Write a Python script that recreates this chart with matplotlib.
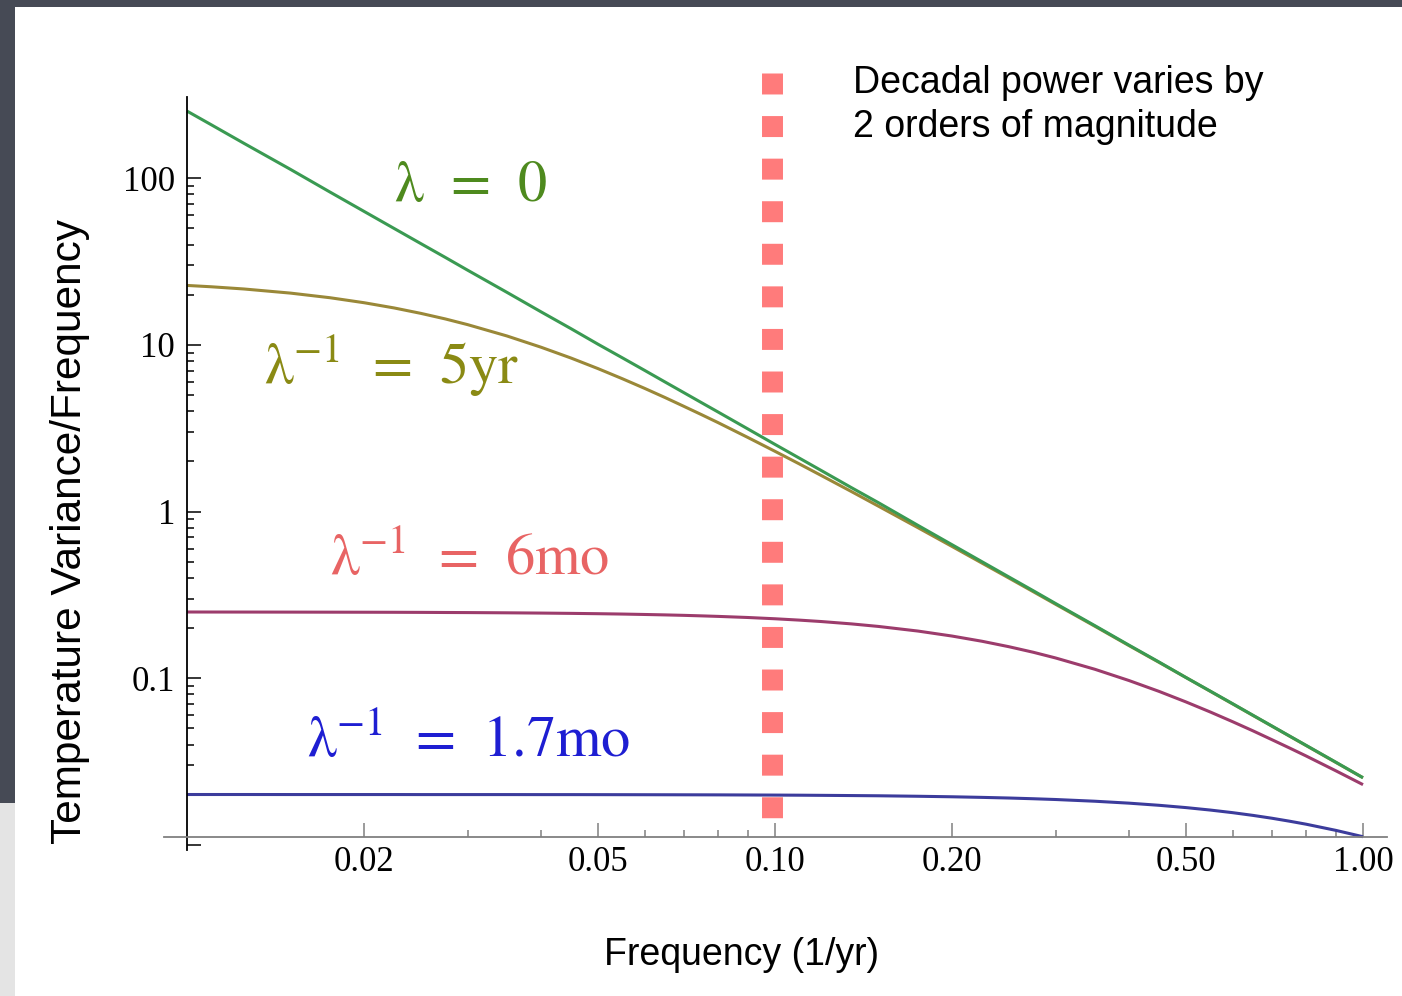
import matplotlib
matplotlib.use("Agg")
import matplotlib.pyplot as plt
from matplotlib.patches import Rectangle
from matplotlib.ticker import FixedLocator, FixedFormatter, NullFormatter

# values (log-log spectra)
freq = [0.01, 0.011, 0.0125, 0.015, 0.0175, 0.02, 0.0225, 0.025, 0.0275,
        0.03, 0.035, 0.04, 0.045, 0.05, 0.055, 0.06, 0.065, 0.07, 0.075,
        0.08, 0.09, 0.1, 0.11, 0.12, 0.135, 0.15, 0.175, 0.2, 0.225, 0.25,
        0.275, 0.3, 0.35, 0.4, 0.45, 0.5, 0.55, 0.6, 0.65, 0.7, 0.75, 0.8,
        0.9, 1.0]
var_lambda0 = [253, 209.3, 162, 113, 82.7, 63.3, 50.0, 40.5, 33.5, 28.1,
               20.68, 15.8, 12.51, 10.1, 8.37, 7.04, 5.995, 5.17, 4.503, 3.96,
               3.127, 2.53, 2.093, 1.76, 1.390, 1.13, 0.827, 0.633, 0.500,
               0.405, 0.335, 0.281, 0.2068, 0.158, 0.1251, 0.101, 0.0837,
               0.0704, 0.05996, 0.0517, 0.04503, 0.0396, 0.0313, 0.0253]
var_5yr = [22.75, 22.33, 21.66, 20.46, 19.20, 17.92, 16.67, 15.46, 14.32,
           13.24, 11.32, 9.69, 8.34, 7.21, 6.27, 5.49, 4.836, 4.28, 3.816,
           3.42, 2.780, 2.30, 1.932, 1.643, 1.317, 1.077, 0.801, 0.618,
           0.4905, 0.399, 0.3305, 0.278, 0.2051, 0.157, 0.1245, 0.101,
           0.08346, 0.0702, 0.05981, 0.0516, 0.04495, 0.0395, 0.0312, 0.0253]
var_6mo = [0.2498, 0.2497, 0.2496, 0.2494, 0.2492, 0.2490, 0.2488, 0.2485,
           0.2481, 0.2478, 0.2470, 0.2461, 0.2451, 0.2440, 0.2428, 0.2414,
           0.2400, 0.2385, 0.2368, 0.2351, 0.2315, 0.2275, 0.2233, 0.2189,
           0.2119, 0.2046, 0.1920, 0.1792, 0.1667, 0.1546, 0.1432, 0.1324,
           0.1132, 0.0969, 0.0834, 0.0721, 0.06273, 0.0549, 0.04836, 0.0428,
           0.03816, 0.0342, 0.0278, 0.0230]
var_1p7mo = [0.02007, 0.02007, 0.02007, 0.02006, 0.02006, 0.02006, 0.02006,
             0.02005, 0.02005, 0.02005, 0.02005, 0.02004, 0.02004, 0.02003,
             0.02002, 0.02001, 0.02000, 0.01999, 0.01998, 0.01997, 0.01994,
             0.01991, 0.01988, 0.01984, 0.01978, 0.01972, 0.01959, 0.01945,
             0.01929, 0.01912, 0.01893, 0.01873, 0.01829, 0.01781, 0.01729,
             0.01675, 0.01619, 0.01562, 0.01504, 0.01446, 0.01388, 0.01332,
             0.01222, 0.01120]

x_major = [0.02, 0.05, 0.1, 0.2, 0.5, 1.0]
x_labels = ["0.02", "0.05", "0.10", "0.20", "0.50", "1.00"]
x_minor = [0.03, 0.04, 0.06, 0.07, 0.08, 0.09, 0.3, 0.4, 0.6, 0.7, 0.8, 0.9]
y_major = [0.01, 0.1, 1, 10, 100]
y_labels = ["", "0.1", "1", "10", "100"]
y_minor = [m * 10.0 ** e for e in range(-2, 2) for m in range(2, 10)]

decadal_freq = 0.099
decadal_top, decadal_bottom = 428, 0.0141

W, H = 1402, 996


def px(x, y):
    return x / W, 1 - y / H


plt.rcParams["mathtext.fontset"] = "stix"

fig = plt.figure(figsize=(W / 100, H / 100), dpi=100)
fig.patch.set_facecolor("#464a55")
fig.patches.append(Rectangle(px(15, 996), 1 - 15 / W, (996 - 7) / H,
                             transform=fig.transFigure, facecolor="white",
                             edgecolor="none", zorder=-5))
fig.patches.append(Rectangle(px(0, 996), 15 / W, (996 - 803) / H,
                             transform=fig.transFigure, facecolor="#e4e4e4",
                             edgecolor="none", zorder=-5))

x0, y0 = px(164, 850)
x1, y1 = px(1387, 97)
ax = fig.add_axes([x0, y0, x1 - x0, y1 - y0], zorder=2)
ax.patch.set_visible(False)
ax.set_xscale("log")
ax.set_yscale("log")
ax.set_xlim(0.009139, 1.0985)
ax.set_ylim(0.009324, 307.3)

ax.plot(freq, var_1p7mo, color="#3c3c9c", lw=2.2, solid_capstyle="butt")
ax.plot(freq, var_6mo, color="#9c3c6c", lw=2.2, solid_capstyle="butt")
ax.plot(freq, var_5yr, color="#9a8838", lw=2.2, solid_capstyle="butt")
ax.plot(freq, var_lambda0, color="#3a9a52", lw=2.2, solid_capstyle="butt")

ax.plot([decadal_freq, decadal_freq], [decadal_top, decadal_bottom],
        color="#ff7b7b", lw=15.1, dashes=(1.0, 1.03), dash_capstyle="butt",
        clip_on=False, zorder=5)

for s in ["top", "right"]:
    ax.spines[s].set_visible(False)
ax.spines["left"].set_position(("data", 0.01))
ax.spines["bottom"].set_position(("data", 0.0112))
ax.spines["left"].set_color("black")
ax.spines["left"].set_linewidth(1.3)
ax.spines["bottom"].set_color("#808080")
ax.spines["bottom"].set_linewidth(1.3)

ax.xaxis.set_major_locator(FixedLocator(x_major))
ax.xaxis.set_major_formatter(FixedFormatter(x_labels))
ax.xaxis.set_minor_locator(FixedLocator(x_minor))
ax.xaxis.set_minor_formatter(NullFormatter())
ax.yaxis.set_major_locator(FixedLocator(y_major))
ax.yaxis.set_major_formatter(FixedFormatter(y_labels))
ax.yaxis.set_minor_locator(FixedLocator(y_minor))
ax.yaxis.set_minor_formatter(NullFormatter())

ax.tick_params(axis="x", which="both", direction="in", color="#808080",
               width=1.1)
ax.tick_params(axis="y", which="both", direction="in", color="black",
               width=1.1)
ax.tick_params(which="major", length=10)
ax.tick_params(which="minor", length=5)
ax.tick_params(axis="x", which="major", pad=6.5)
ax.tick_params(axis="y", which="major", pad=8.5)
for lab in ax.get_xticklabels() + ax.get_yticklabels():
    lab.set_fontfamily("Liberation Serif")
    lab.set_fontsize(25)

sans = "Liberation Sans"
fig.text(*px(70, 531), "Temperature Variance/Frequency", rotation=90,
         ha="center", va="center", fontsize=30.5, family=sans)
fig.text(*px(742, 955), "Frequency (1/yr)", ha="center", va="center",
         fontsize=27, family=sans)
fig.text(*px(853, 93), "Decadal power varies by", ha="left",
         va="baseline", fontsize=27, family=sans)
fig.text(*px(853, 137), "2 orders of magnitude", ha="left",
         va="baseline", fontsize=27, family=sans)

lab_kw = dict(ha="center", va="center", fontsize=42)
fig.text(*px(471, 185), r"$\mathrm{\lambda}\;\,=\;\,0$", color="#4e8a1e",
         **lab_kw)
fig.text(*px(392, 366), r"$\mathrm{\lambda}^{-1}\;\,=\;\,5\mathrm{yr}$",
         color="#8a8a14", **lab_kw)
fig.text(*px(470, 558), r"$\mathrm{\lambda}^{-1}\;\,=\;\,6\mathrm{mo}$",
         color="#e86464", **lab_kw)
fig.text(*px(469, 740), r"$\mathrm{\lambda}^{-1}\;\,=\;\,1.7\mathrm{mo}$",
         color="#1e1ed2", **lab_kw)

fig.savefig("out.png", dpi=100)
